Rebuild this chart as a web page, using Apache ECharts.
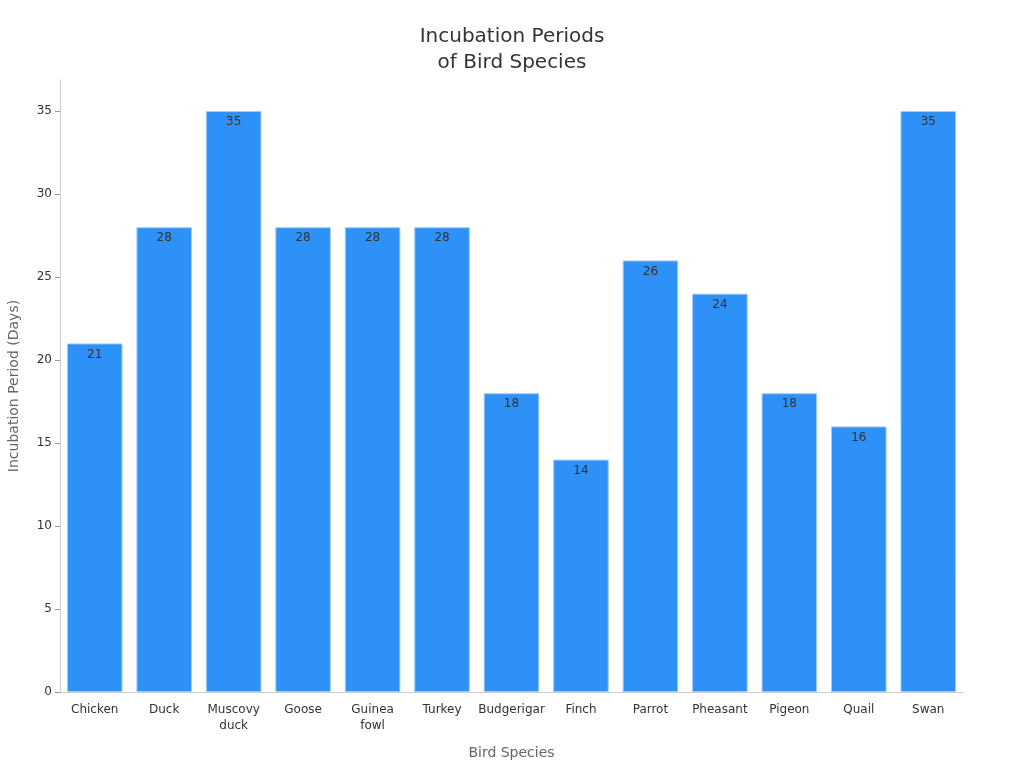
<!DOCTYPE html>
<html>
<head>
<meta charset="utf-8">
<script src="https://cdn.jsdelivr.net/npm/echarts@6/dist/echarts.min.js"></script>
<style>html,body{margin:0;padding:0;background:#fff}#c{width:1024px;height:768px}</style>
</head>
<body>
<div id="c"></div>
<script>
const categories = ["Chicken","Duck","Muscovy\nduck","Goose","Guinea\nfowl","Turkey","Budgerigar","Finch","Parrot","Pheasant","Pigeon","Quail","Swan"];
const incubationDays = [21,28,35,28,28,28,18,14,26,24,18,16,35];
const yTicks = [0,5,10,15,20,25,30,35];

const chart = echarts.init(document.getElementById('c'));
chart.setOption({
  backgroundColor: '#fff',
  textStyle: { fontFamily: 'DejaVu Sans' },
  title: {
    text: 'Incubation Periods\nof Bird Species',
    left: 'center', top: 19,
    textStyle: { fontSize: 20, fontWeight: 'normal', color: '#333', lineHeight: 26, fontFamily: 'DejaVu Sans' }
  },
  grid: { left: 60, right: 61, top: 80, bottom: 76, outerBoundsMode: 'none', containLabel: false },
  xAxis: {
    type: 'category',
    data: categories,
    name: 'Bird Species',
    nameLocation: 'middle',
    nameGap: 54,
    nameTextStyle: { fontSize: 14, color: '#666' },
    axisLine: { lineStyle: { color: '#ccc' } },
    axisTick: { alignWithLabel: true, lineStyle: { color: '#999' } },
    axisLabel: { fontSize: 12, color: '#333', interval: 0, lineHeight: 16, margin: 10 },
  },
  yAxis: {
    type: 'value',
    min: 0, max: 36.87,
    name: 'Incubation Period (Days)',
    nameLocation: 'middle',
    nameGap: 39,
    nameTextStyle: { fontSize: 14, color: '#666' },
    axisLine: { show: true, lineStyle: { color: '#ccc' } },
    axisTick: { show: true, customValues: yTicks, lineStyle: { color: '#999' } },
    axisLabel: { fontSize: 12, color: '#333', customValues: yTicks },
    splitLine: { show: false }
  },
  series: [{
    type: 'bar',
    data: incubationDays,
    barCategoryGap: '20%',
    itemStyle: { color: '#2E91F8', borderColor: '#9FCBF7', borderWidth: 1 },
    label: { show: true, position: 'insideTop', color: '#333', fontSize: 12, distance: 5 }
  }]
});
</script>
</body>
</html>
